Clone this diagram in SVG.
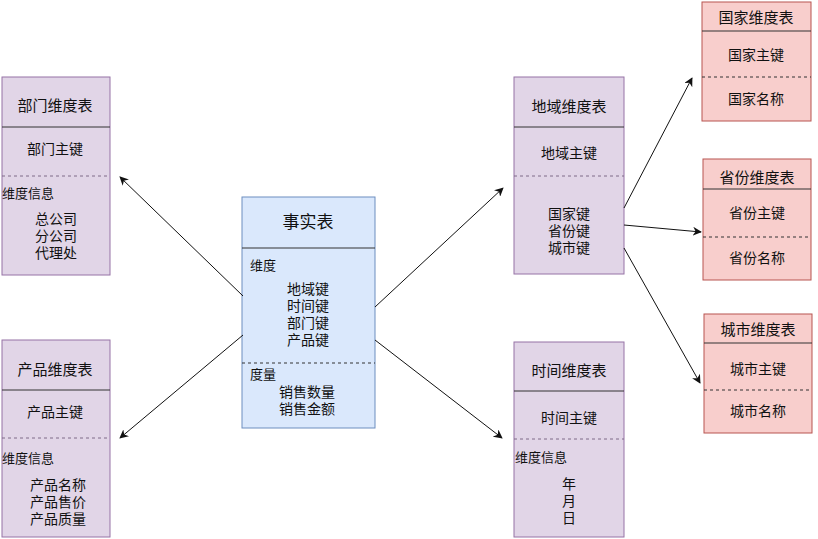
<svg xmlns="http://www.w3.org/2000/svg" width="818" height="539" viewBox="0 0 818 539">
<defs>
<style>
.p{fill:#e1d5e7;stroke:#9673a6;stroke-width:1}
.b{fill:#dae8fc;stroke:#6c8ebf;stroke-width:1}
.r{fill:#f8cecc;stroke:#b85450;stroke-width:1}
.sep{stroke:#333;stroke-width:1}
.dp{stroke:#7f6a88;stroke-width:1;stroke-dasharray:3 3}
.dk{stroke:#333;stroke-width:1;stroke-dasharray:3 3}
text{font-family:"Liberation Sans","Noto Sans CJK SC",sans-serif;font-size:14px;fill:#111;dominant-baseline:central}
.c{text-anchor:middle}
.h{font-size:15px}
.t{font-size:17px}
.s{font-size:13px}
.conn line{stroke:#111;stroke-width:1;marker-end:url(#arr)}
</style>
<marker id="arr" viewBox="0 0 10 10" refX="9" refY="5" markerWidth="9" markerHeight="9" markerUnits="userSpaceOnUse" orient="auto">
<path d="M0,0 L10,5 L0,10 L3,5 Z" fill="#111"/>
</marker>
</defs>
<rect width="818" height="539" fill="#fff"/>

<g id="dept">
<rect class="p" x="2" y="77" width="108" height="198"/>
<line class="sep" x1="2" y1="127" x2="110" y2="127"/>
<line class="dp" x1="2" y1="176" x2="110" y2="176"/>
<text class="c h" x="55" y="105">部门维度表</text>
<text class="c" x="55" y="149">部门主键</text>
<text class="s" x="2" y="193">维度信息</text>
<text class="c" x="56" y="219">总公司</text>
<text class="c" x="56" y="236">分公司</text>
<text class="c" x="56" y="253">代理处</text>
</g>

<g id="product">
<rect class="p" x="2" y="340" width="108" height="197"/>
<line class="sep" x1="2" y1="390" x2="110" y2="390"/>
<line class="dp" x1="2" y1="438" x2="110" y2="438"/>
<text class="c h" x="55" y="369">产品维度表</text>
<text class="c" x="55" y="412">产品主键</text>
<text class="s" x="2" y="458">维度信息</text>
<text class="c" x="58" y="485">产品名称</text>
<text class="c" x="58" y="502">产品售价</text>
<text class="c" x="58" y="519">产品质量</text>
</g>

<g id="fact">
<rect class="b" x="242" y="197" width="133" height="231"/>
<line class="sep" x1="242" y1="248" x2="375" y2="248"/>
<line class="dk" x1="242" y1="363" x2="375" y2="363"/>
<text class="c t" x="308" y="222">事实表</text>
<text class="s" x="250" y="265">维度</text>
<text class="c" x="308" y="289">地域键</text>
<text class="c" x="308" y="306">时间键</text>
<text class="c" x="308" y="323">部门键</text>
<text class="c" x="308" y="340">产品键</text>
<text class="s" x="250" y="374">度量</text>
<text class="c" x="307" y="392">销售数量</text>
<text class="c" x="307" y="409">销售金额</text>
</g>

<g id="region">
<rect class="p" x="514" y="77" width="110" height="197"/>
<line class="sep" x1="514" y1="127" x2="624" y2="127"/>
<line class="dp" x1="514" y1="176" x2="624" y2="176"/>
<text class="c h" x="569" y="106">地域维度表</text>
<text class="c" x="569" y="153">地域主键</text>
<text class="c" x="569" y="214">国家键</text>
<text class="c" x="569" y="231">省份键</text>
<text class="c" x="569" y="248">城市键</text>
</g>

<g id="time">
<rect class="p" x="514" y="342" width="110" height="195"/>
<line class="sep" x1="514" y1="391" x2="624" y2="391"/>
<line class="dp" x1="514" y1="439" x2="624" y2="439"/>
<text class="c h" x="569" y="370">时间维度表</text>
<text class="c" x="569" y="418">时间主键</text>
<text class="s" x="515" y="457">维度信息</text>
<text class="c" x="569" y="484">年</text>
<text class="c" x="569" y="501">月</text>
<text class="c" x="569" y="518">日</text>
</g>

<g id="country">
<rect class="r" x="702" y="2" width="109" height="119"/>
<line class="sep" x1="702" y1="31" x2="811" y2="31"/>
<line class="dk" x1="702" y1="77" x2="811" y2="77"/>
<text class="c h" x="756" y="17">国家维度表</text>
<text class="c" x="756" y="55">国家主键</text>
<text class="c" x="756" y="99">国家名称</text>
</g>

<g id="province">
<rect class="r" x="703" y="159" width="108" height="121"/>
<line class="sep" x1="703" y1="189" x2="811" y2="189"/>
<line class="dk" x1="703" y1="237" x2="811" y2="237"/>
<text class="c h" x="757" y="177">省份维度表</text>
<text class="c" x="757" y="213">省份主键</text>
<text class="c" x="757" y="258">省份名称</text>
</g>

<g id="city">
<rect class="r" x="704" y="314" width="108" height="119"/>
<line class="sep" x1="704" y1="343" x2="812" y2="343"/>
<line class="dk" x1="704" y1="390" x2="812" y2="390"/>
<text class="c h" x="758" y="329">城市维度表</text>
<text class="c" x="758" y="369">城市主键</text>
<text class="c" x="758" y="411">城市名称</text>
</g>

<g id="connectors" class="conn">
<line x1="243" y1="296" x2="120" y2="177"/>
<line x1="243" y1="335" x2="120" y2="438"/>
<line x1="375" y1="307" x2="503" y2="188"/>
<line x1="375" y1="340" x2="502" y2="438"/>
<line x1="624" y1="208" x2="692" y2="78"/>
<line x1="624" y1="225" x2="701" y2="232"/>
<line x1="624" y1="248" x2="700" y2="383"/>
</g>
</svg>
